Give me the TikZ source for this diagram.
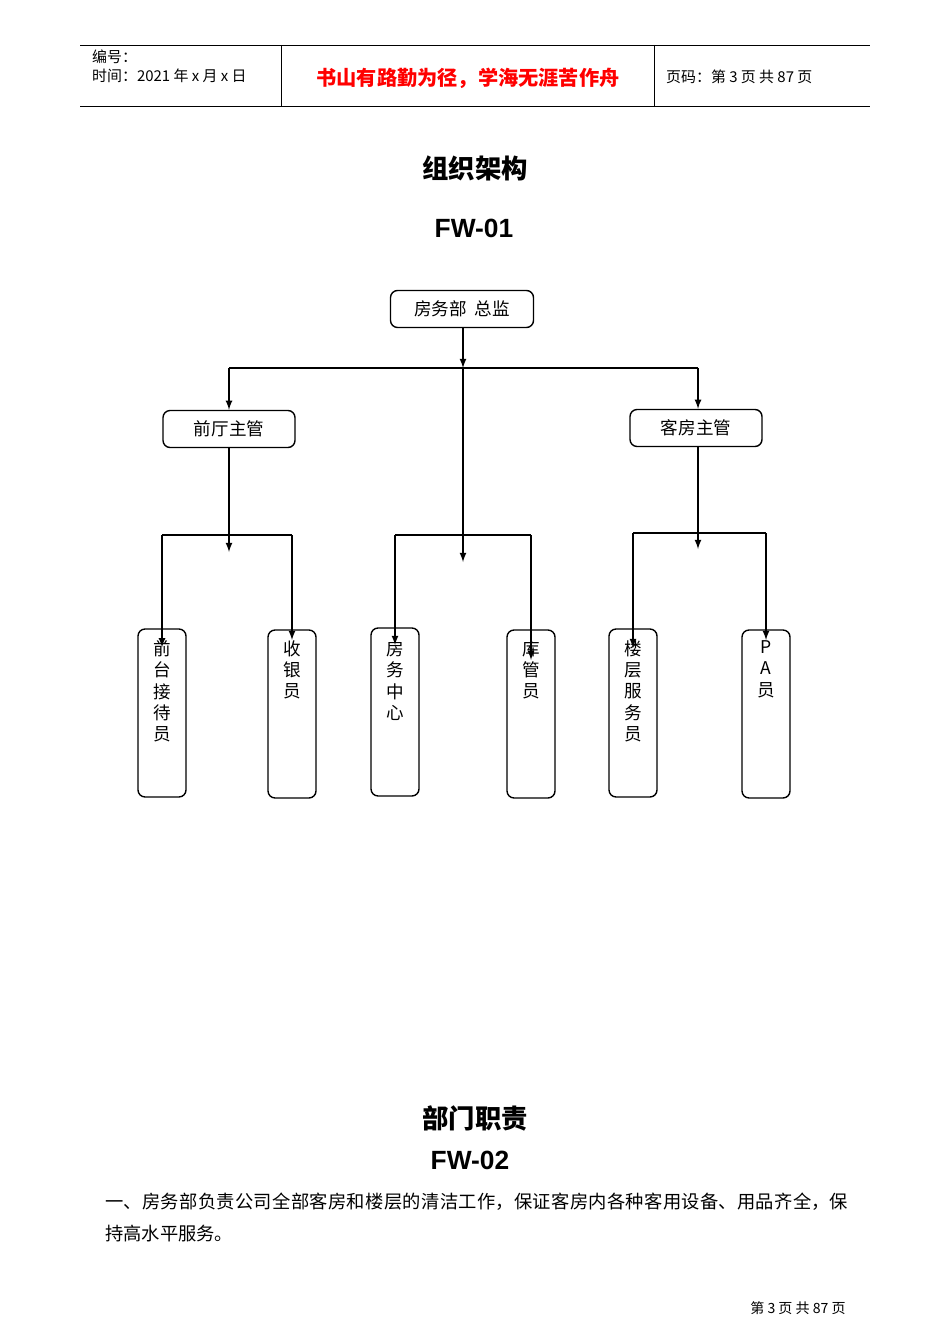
\documentclass[tikz,border=0pt]{standalone}
\usepackage{fontspec}
\setmainfont{Noto Sans CJK SC}
\newfontfamily\latn{Liberation Sans}
\XeTeXlinebreaklocale "zh"
\XeTeXlinebreakskip=0pt plus 1pt
\usetikzlibrary{positioning}
\tikzset{
  post/.style={rounded corners=4pt, draw=black, thick, minimum width=2.64cm, minimum height=0.74cm, font=\fontsize{10}{12}\selectfont},
  staff/.style={rounded corners=4pt, draw=black, thick, minimum width=0.96cm, minimum height=3.36cm},
  vtext/.style={anchor=north, align=center, font=\fontsize{10}{12.2}\selectfont, inner sep=0pt},
  link/.style={thick},
  arr/.style={thick, -latex}
}
\begin{document}
\begin{tikzpicture}[x=0.02cm, y=-0.02cm]
\useasboundingbox (0,0) rectangle (950,1344);
% header
\draw (80,45) -- (870,45);
\draw (80,106) -- (870,106);
\draw (281,45) -- (281,106);
\draw (654,45) -- (654,106);
\node[anchor=west, font=\fontsize{8.5}{10}\selectfont] (num) at (86,57) {编号：};
\node[anchor=west, font=\fontsize{8.5}{10}\selectfont] (time) at (86,76) {时间：2021 年 x 月 x 日};
\node[font=\fontsize{11.5}{13}\selectfont\bfseries, text=red] (motto) at (468,78) {书山有路勤为径，学海无涯苦作舟};
\node[anchor=west, font=\fontsize{8.5}{10}\selectfont] (page) at (660,77) {页码：第 3 页 共 87 页};
% titles
\node[font=\fontsize{15}{17}\selectfont\bfseries] (title) at (475,168) {组织架构};
\node[font=\fontsize{15}{17}\selectfont\bfseries\latn] (code) at (474,228) {FW-01};
% posts
\node[post, minimum width=2.86cm] (head) at (462,309) {房务部\ \ 总监};
\node[post] (front) at (229,429) {前厅主管};
\node[post] (house) at (696,428) {客房主管};
\foreach \n/\x/\y/\t in {rec/162/713/前\\台\\接\\待\\员, cash/292/714/收\\银\\员, cen/395/712/房\\务\\中\\心, store/531/714/库\\管\\员, floor/633/713/楼\\层\\服\\务\\员, pa/766/714/P\\A\\员}{
  \node[staff] (\n) at (\x,\y) {};
  \node[vtext] (\n t) at (\x,640) {\t};
}
% junctions
\coordinate (j0) at (463,368);
\coordinate (jl) at (229,368);
\coordinate (jr) at (698,368);
\coordinate (c1) at (229,552);
\coordinate (c2) at (463,562);
\coordinate (c3) at (698,549);
\draw[arr] (head.south -| j0) -- (j0);
\draw[link] (jl) -- (jr);
\draw[arr] (jl) -- (front.north -| jl);
\draw[arr] (jr) -- (house.north -| jr);
\draw[arr] (j0) -- (c2);
\draw[arr] (front.south -| c1) -- (c1);
\draw[arr] (house.south -| c3) -- (c3);
\draw[arr] (rec.north) ++(0,19) coordinate (a1) (a1 |- 0,535) -- (a1);
\draw[link] (rec.north |- 0,535) -- (cash.north |- 0,535);
\draw[arr] (cash.north |- 0,535) -- ++(0,105);
\draw[link] (cen.north |- 0,535) -- (store.north |- 0,535);
\draw[arr] (cen.north |- 0,535) -- ++(0,110);
\draw[arr] (store.north |- 0,535) -- ++(0,125);
\draw[link] (floor.north |- 0,533) -- (pa.north |- 0,533);
\draw[arr] (floor.north |- 0,533) -- ++(0,115);
\draw[arr] (pa.north |- 0,533) -- ++(0,107);
% lower part
\node[font=\fontsize{15}{17}\selectfont\bfseries] (duty) at (475,1118) {部门职责};
\node[font=\fontsize{15}{17}\selectfont\bfseries\latn] (code2) at (470,1160) {FW-02};
\node[anchor=north west, text width=14.86cm, align=justify, inner sep=0pt, font=\fontsize{10.4}{18.2}\selectfont] (para) at (105,1193) {一、房务部负责公司全部客房和楼层的清洁工作，保证客房内各种客用设备、用品齐全，保持高水平服务。};
\node[font=\fontsize{8}{10}\selectfont] (foot) at (798,1308) {第 3 页 共 87 页};
\end{tikzpicture}
\end{document}
